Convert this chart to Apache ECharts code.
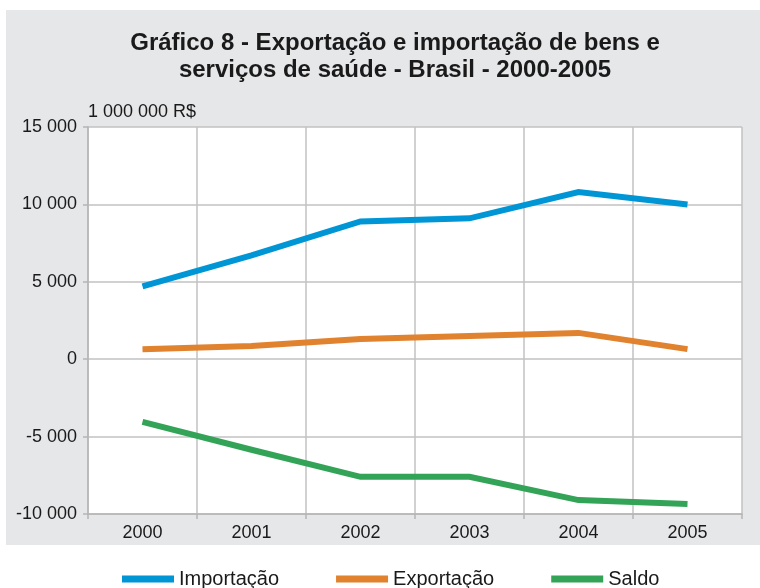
<!DOCTYPE html>
<html>
<head>
<meta charset="utf-8">
<script src="https://cdn.jsdelivr.net/npm/echarts@6/dist/echarts.min.js"></script>
<style>
  html, body { margin: 0; padding: 0; background: #fff; }
  #chart { width: 760px; height: 588px; }
</style>
</head>
<body>
<div id="chart"></div>
<script>
// dados (1 000 000 R$)
const anos = ['2000', '2001', '2002', '2003', '2004', '2005']
const importacao = [4700, 6700, 8900, 9100, 10800, 10000]
const exportacao = [650, 850, 1300, 1500, 1700, 650]
const saldo = [-4050, -5850, -7600, -7600, -9100, -9350]

const fonte = 'Liberation Sans, Arial, sans-serif'
const corTexto = '#1a1a1a'
const corGrade = '#c2c2c2'

// formata 15000 -> "15 000"
function formatarNumero(v) {
  const s = String(Math.abs(v)).replace(/\B(?=(\d{3})+(?!\d))/g, ' ')
  return (v < 0 ? '-' : '') + s
}

const chart = echarts.init(document.getElementById('chart'), null, { renderer: 'canvas' })

const linha = (nome, dados, cor) => ({
  name: nome,
  type: 'line',
  data: dados,
  symbol: 'none',
  lineStyle: { color: cor, width: 6, cap: 'butt', join: 'miter' },
  itemStyle: { color: cor },
  z: 3
})

chart.setOption({
  animation: false,
  backgroundColor: '#fff',
  graphic: [
    {
      type: 'rect',
      shape: { x: 6, y: 10, width: 754, height: 535 },
      style: { fill: '#e6e7e9' },
      z: -10
    },
    {
      type: 'rect',
      shape: { x: 88, y: 127, width: 654, height: 387 },
      style: { fill: '#fff' },
      z: -9
    },
    {
      type: 'text',
      left: 88,
      top: 103,
      style: { text: '1 000 000 R$', font: '18px ' + fonte, fill: corTexto }
    }
  ],
  title: {
    text: 'Gráfico 8 - Exportação e importação de bens e\nserviços de saúde - Brasil - 2000-2005',
    left: 390,
    top: 25,
    textAlign: 'center',
    textStyle: {
      fontFamily: fonte,
      fontSize: 24,
      fontWeight: 'bold',
      color: corTexto,
      lineHeight: 27
    }
  },
  legend: {
    left: 117,
    top: 564,
    icon: 'rect',
    itemWidth: 52,
    itemHeight: 7,
    itemGap: 57,
    textStyle: { fontFamily: fonte, fontSize: 20, color: corTexto },
    data: ['Importação', 'Exportação', 'Saldo']
  },
  grid: { left: 88, right: 18, top: 127, bottom: 74 },
  xAxis: {
    type: 'category',
    data: anos,
    boundaryGap: true,
    axisLine: { show: true, onZero: false, lineStyle: { color: '#b5b5b5', width: 1.5 } },
    axisTick: { show: true, length: 5, lineStyle: { color: '#b5b5b5', width: 1.5 } },
    axisLabel: { margin: 10, fontFamily: fonte, fontSize: 18, color: corTexto },
    splitLine: { show: true, lineStyle: { color: corGrade, width: 1.5 } }
  },
  yAxis: {
    type: 'value',
    min: -10000,
    max: 15000,
    interval: 5000,
    axisLine: { show: true, lineStyle: { color: '#b5b5b5', width: 1.5 } },
    axisTick: { show: true, length: 5, lineStyle: { color: '#b5b5b5', width: 1.5 } },
    axisLabel: {
      margin: 11,
      fontFamily: fonte,
      fontSize: 18,
      color: corTexto,
      formatter: formatarNumero
    },
    splitLine: { show: true, lineStyle: { color: corGrade, width: 1.5 } }
  },
  series: [
    linha('Importação', importacao, '#0096d6'),
    linha('Exportação', exportacao, '#e0822e'),
    linha('Saldo', saldo, '#33a457')
  ]
})
</script>
</body>
</html>
